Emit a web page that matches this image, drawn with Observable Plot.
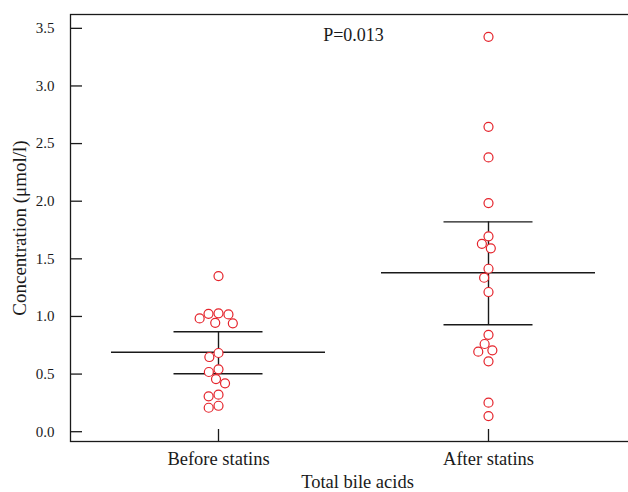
<!DOCTYPE html>
<html><head><meta charset="utf-8">
<script src="https://cdn.jsdelivr.net/npm/d3@7"></script>
<script src="https://cdn.jsdelivr.net/npm/@observablehq/plot@0.6"></script>
<style>
html,body{margin:0;padding:0;background:#fff;overflow:hidden;}
</style></head><body><div id="chart"></div>
<script>
// ---- data ----
const groups = ["Before statins", "After statins"];
const beforeValues = [1.35, 1.027, 1.023, 1.018, 0.983, 0.945, 0.94, 0.683, 0.648, 0.541, 0.518, 0.457, 0.42, 0.321, 0.307, 0.225, 0.208];
const afterValues = [3.426, 2.645, 2.38, 1.984, 1.695, 1.63, 1.591, 1.414, 1.336, 1.212, 0.841, 0.761, 0.706, 0.694, 0.611, 0.252, 0.136];
const centerValues = [0.689, 1.379];
const upperValues = [0.867, 1.821];
const lowerValues = [0.503, 0.928];
const yTicks = [0, 0.5, 1, 1.5, 2, 2.5, 3, 3.5];
const pLabel = "P=0.013";
const xTitle = "Total bile acids";
const yTitle = "Concentration (μmol/l)";

// ---- tables built from the arrays ----
const groupValues = [beforeValues, afterValues];
const stats = groups.map((g, i) => ({group: g, center: centerValues[i], upper: upperValues[i], lower: lowerValues[i]}));

const W = 628, H = 492, mL = 70, mR = 0, mT = 14, mB = 51;
const ink = "#1a1a1a";
const red = "#e5232b";

// move dodged dots (centred on the frame) onto each group's position
function toGroup(data, facets, channels, scales, dims) {
  const X = channels.x.value;
  const s = scales.x;
  const fn = typeof s === "function" ? s : (v) => s.apply(v);
  const mid = (dims.marginLeft + dims.width - dims.marginRight) / 2;
  const out = Float64Array.from(X, (x, i) => x - mid + fn(data[i].group));
  return {data, facets, channels: {x: {value: out}}};
}

// one dodged dot mark per group, so groups do not push each other
const dotMarks = groups.map((g, gi) =>
  Plot.dot(groupValues[gi].map(v => ({group: g, value: v})), Plot.initializer(
    Plot.dodgeX("middle", {y: "value", r: 4.5, padding: -0.2, stroke: red, fill: "white", strokeWidth: 1.2}),
    toGroup
  ))
);

const chart = Plot.plot({
  width: W, height: H,
  marginLeft: mL, marginRight: mR, marginTop: mT, marginBottom: mB,
  style: {fontFamily: "'Liberation Serif', 'Times New Roman', serif", color: ink, background: "white"},
  x: {type: "band", domain: groups, paddingInner: 0.209, paddingOuter: 0.136, align: 0.55},
  y: {domain: [-0.085, 3.62]},
  marks: [
    Plot.frame({stroke: ink, strokeWidth: 1.3, insetRight: -6}),
    Plot.tickY(yTicks, {y: d => d, stroke: ink, strokeWidth: 1.3, insetRight: W - mL - mR - 12}),
    Plot.ruleX(groups, {x: d => d, stroke: ink, strokeWidth: 1.3, insetTop: H - mT - mB - 12}),
    Plot.axisY({ticks: yTicks, tickFormat: d3.format(".1f"), tickSize: 0, tickPadding: 16, fontSize: 15, label: null}),
    Plot.axisY({ticks: [], tickSize: 0, fontSize: 19,
      label: yTitle, labelAnchor: "center", labelArrow: "none", labelOffset: 58}),
    Plot.axisX({tickSize: 0, tickPadding: 10, fontSize: 18.5, label: null}),
    Plot.text([xTitle], {text: d => d, frameAnchor: "bottom", lineAnchor: "bottom", dx: 8, dy: 46, fontSize: 18.5, fill: ink}),
    Plot.tickY(stats, {x: "group", y: "center", stroke: ink, strokeWidth: 1.4}),
    Plot.tickY(stats, {x: "group", y: "upper", stroke: ink, strokeWidth: 1.4, inset: 62.5}),
    Plot.tickY(stats, {x: "group", y: "lower", stroke: ink, strokeWidth: 1.4, inset: 62.5}),
    Plot.ruleX(stats, {x: "group", y1: "lower", y2: "upper", stroke: ink, strokeWidth: 1.4}),
    ...dotMarks,
    Plot.text([pLabel], {text: d => d, frameAnchor: "top", lineAnchor: "top", dx: 4, dy: 14, fontSize: 18, fill: ink})
  ]
});
document.getElementById("chart").append(chart);
</script>
</body></html>
